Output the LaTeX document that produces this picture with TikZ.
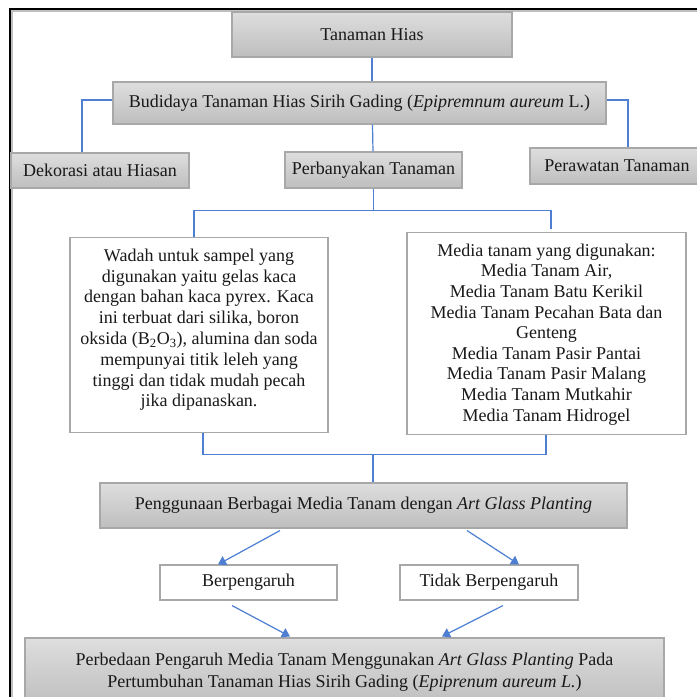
\documentclass[tikz,border=0pt]{standalone}
\usepackage{fontspec}
\setmainfont{Liberation Serif}
\usetikzlibrary{arrows.meta,calc}
\definecolor{conn}{HTML}{4F7FD3}
\definecolor{bordergray}{HTML}{A8A8A8}
\definecolor{gtop}{HTML}{DEDEDE}
\definecolor{gbot}{HTML}{BEBEBE}
\tikzset{
  gbox/.style={rectangle, draw=bordergray, line width=0.8pt, top color=gtop, bottom color=gbot, inner sep=0pt, align=center, text=black!90, font=\fontsize{13.5}{15.5}\selectfont},
  wbox/.style={rectangle, draw=bordergray, line width=0.8pt, fill=white, inner sep=0pt, align=center, text=black!90, font=\fontsize{13.5}{15.5}\selectfont},
  cline/.style={draw=conn, line width=0.9pt},
  carrow/.style={draw=conn, line width=0.9pt, -{Triangle[width=7.5pt,length=6pt]}, fill=conn},
}
\begin{document}
\begin{tikzpicture}[x=0.75pt, y=-0.75pt]
\useasboundingbox (0,0) rectangle (697,697);
\clip (0,0) rectangle (697,697);
\fill[white] (0,0) rectangle (697,697);
% outer frame
\draw[black!25, line width=3pt] (11,710) -- (11,10) -- (710,10);
\draw[black, line width=1.8pt] (10,710) -- (10,9) -- (710,9);

\node[gbox, minimum width=210pt, minimum height=33.75pt] (tan) at (372,34.5) {Tanaman Hias};
\node[gbox, minimum width=369.75pt, minimum height=31.5pt] (bud) at (359.5,103) {Budidaya Tanaman Hias Sirih Gading (\textit{Epipremnum aureum} L.)};
\node[gbox, minimum width=133.5pt, minimum height=26.25pt] (dek) at (100,170.5) {Dekorasi atau Hiasan};
\node[gbox, minimum width=132.75pt, minimum height=27pt] (pb) at (373.5,170) {Perbanyakan Tanaman};
\node[gbox, minimum width=130.5pt, minimum height=27pt] (per) at (617,166) {Perawatan Tanaman};

\node[wbox, minimum width=193.5pt, minimum height=146.25pt, anchor=north] (lb) at (199,237) {};
\node[align=center, text=black!90, font=\fontsize{13.5}{15.6}\selectfont, anchor=north] at (199,244) {Wadah untuk sampel yang\\digunakan yaitu gelas kaca\\dengan bahan kaca pyrex. Kaca\\ini terbuat dari silika, boron\\oksida (B\textsubscript{2}O\textsubscript{3}), alumina dan soda\\mempunyai titik leleh yang\\tinggi dan tidak mudah pecah\\jika dipanaskan.};

\node[wbox, minimum width=209.25pt, minimum height=151.5pt, anchor=north] (rb) at (546.5,232) {};
\node[align=center, text=black!90, font=\fontsize{13.5}{15.45}\selectfont, anchor=north] at (546.5,239) {Media tanam yang digunakan:\\Media Tanam Air,\\Media Tanam Batu Kerikil\\Media Tanam Pecahan Bata dan\\Genteng\\Media Tanam Pasir Pantai\\Media Tanam Pasir Malang\\Media Tanam Mutkahir\\Media Tanam Hidrogel};

\node[gbox, minimum width=395.25pt, minimum height=33.75pt] (pg) at (363.5,505.5) {Penggunaan Berbagai Media Tanam dengan \textit{Art Glass Planting}};
\node[wbox, minimum width=132.75pt, minimum height=26.25pt] (bp) at (248.5,582.5) {Berpengaruh};
\node[wbox, minimum width=133.5pt, minimum height=26.25pt] (tb) at (489,582.5) {Tidak Berpengaruh};
\node[gbox, minimum width=479.25pt, minimum height=51pt, font=\fontsize{13.5}{16.5}\selectfont] (bt) at (344.5,672) {Perbedaan Pengaruh Media Tanam Menggunakan \textit{Art Glass Planting} Pada\\Pertumbuhan Tanaman Hias Sirih Gading (\textit{Epiprenum aureum L.})};

% connectors
\draw[cline] (tan.south) -- (tan.south |- bud.north);
\draw[cline] ($(bud.west)+(0,-3)$) -| ($(dek.north)+(-18,0)$);
\draw[cline] ($(bud.east)+(0,-3)$) -| ($(per.north)+(11,0)$);
\draw[cline] ($(bud.south)+(13,0)$) -- ($(pb.north)+(-0.5,0)$);
\coordinate (j1) at ($(pb.south)+(0,22)$);
\draw[cline] (pb.south) -- (j1);
\draw[cline] (j1) -| ($(lb.north)+(-5,0)$);
\draw[cline] (j1) -| ($(rb.north)+(4.5,-3)$);
\coordinate (j2) at ($(pg.north)+(9.5,-28)$);
\draw[cline] ($(lb.south)+(4,0)$) |- (j2);
\draw[cline] ($(rb.south)+(-0.5,0)$) |- (j2);
\draw[cline] (j2) -- (j2 |- pg.north);
\draw[carrow] ($(pg.south)+(-83.5,2)$) -- ($(bp.north)+(-30.5,0)$);
\draw[carrow] ($(pg.south)+(103.5,2)$) -- ($(tb.north)+(30,0)$);
\draw[carrow] ($(bp.south)+(-16.5,5)$) -- ($(bt.north)+(-54.5,-1)$);
\draw[carrow] ($(tb.south)+(14,5)$) -- ($(bt.north)+(97.5,-1)$);
\end{tikzpicture}
\end{document}
